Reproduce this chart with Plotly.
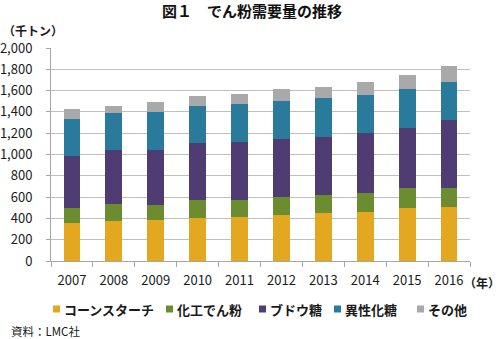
import plotly.graph_objects as go

years = ["2007", "2008", "2009", "2010", "2011", "2012", "2013", "2014", "2015", "2016"]
corn_starch = [359, 375, 384, 400, 416, 431, 447, 463, 500, 506]
modified_starch = [141, 156, 144, 172, 159, 166, 172, 175, 181, 178]
glucose = [488, 513, 516, 534, 544, 547, 547, 565, 569, 638]
isomerized_sugar = [343, 350, 359, 353, 356, 359, 362, 360, 363, 362]
others = [94, 65, 91, 88, 97, 113, 106, 115, 131, 144]

series_names = ["コーンスターチ", "化工でん粉", "ブドウ糖", "異性化糖", "その他"]
series_values = [corn_starch, modified_starch, glucose, isomerized_sugar, others]
series_colors = ["#E3A720", "#6B8C2F", "#4F3C72", "#2A7B9B", "#A9A9A9"]

FONT = "Noto Sans CJK JP"
W, H = 500, 339
L, R, T, B = 51, 30, 48, 78
PW, PH = W - L - R, H - T - B


def px_to_paper(px, py):
    return (px - L) / PW, (H - B - py) / PH


fig = go.Figure()
for name, vals, color in zip(series_names, series_values, series_colors):
    fig.add_trace(go.Bar(
        x=years, y=vals, name=name,
        marker=dict(color=color, line=dict(width=0)),
    ))

fig.update_layout(
    width=W, height=H,
    barmode="stack",
    bargap=0.6,
    showlegend=False,
    plot_bgcolor="white",
    paper_bgcolor="white",
    margin=dict(l=L, r=R, t=T, b=B, autoexpand=False),
    font=dict(family=FONT, size=12, color="#1a1a1a"),
    xaxis=dict(
        type="category",
        showline=True, linecolor="#A6A6A6", linewidth=1,
        ticks="outside", tickson="boundaries", ticklen=5, tickcolor="#A6A6A6",
        tickfont=dict(size=13, family=FONT, color="#1a1a1a"),
        ticklabelstandoff=7,
        showgrid=False,
    ),
    yaxis=dict(
        range=[0, 2000], dtick=200, tickformat=",d",
        showline=True, linecolor="#A6A6A6", linewidth=1,
        gridcolor="#BFBFBF", gridwidth=1,
        ticks="outside", ticklen=4, tickcolor="#A6A6A6",
        ticklabelstandoff=11,
        tickfont=dict(size=13, family=FONT, color="#1a1a1a"),
        zeroline=False,
    ),
)

# chart heading
tx, ty = px_to_paper(252, 11)
fig.add_annotation(text="<b>図１　でん粉需要量の推移</b>", xref="paper", yref="paper",
                   x=tx, y=ty, xanchor="center", yanchor="middle",
                   showarrow=False, font=dict(size=15, family=FONT, color="#111111"))

# hand-placed legend row: square swatch followed by its label
legend_left_px = [53, 166, 259, 334, 417]
legend_mid_py = 309
swatch = 7
for name, color, lx in zip(series_names, series_colors, legend_left_px):
    x0, y0 = px_to_paper(lx, legend_mid_py + swatch / 2)
    x1, y1 = px_to_paper(lx + swatch, legend_mid_py - swatch / 2)
    fig.add_shape(type="rect", xref="paper", yref="paper",
                  x0=x0, y0=y0, x1=x1, y1=y1,
                  fillcolor=color, line=dict(width=0))
    tx, ty = px_to_paper(lx + swatch + 2, legend_mid_py)
    fig.add_annotation(text="<b>" + name + "</b>", xref="paper", yref="paper",
                       x=tx, y=ty, xanchor="left", yanchor="middle",
                       showarrow=False,
                       font=dict(size=13, family=FONT, color="#1a1a1a"))

ax, ay = px_to_paper(1, 31)
fig.add_annotation(text="<b>（千トン）</b>", xref="paper", yref="paper",
                   x=ax, y=ay, xanchor="left", yanchor="middle",
                   showarrow=False, font=dict(size=12, family=FONT, color="#1a1a1a"))
ax, ay = px_to_paper(502, 282)
fig.add_annotation(text="<b>（年）</b>", xref="paper", yref="paper",
                   x=ax, y=ay, xanchor="right", yanchor="middle",
                   showarrow=False, font=dict(size=12, family=FONT, color="#1a1a1a"))
ax, ay = px_to_paper(9, 331)
fig.add_annotation(text="資料：LMC社", xref="paper", yref="paper",
                   x=ax, y=ay, xanchor="left", yanchor="middle",
                   showarrow=False, font=dict(size=11.5, family=FONT, color="#1a1a1a"))

fig.write_html("out.html")
